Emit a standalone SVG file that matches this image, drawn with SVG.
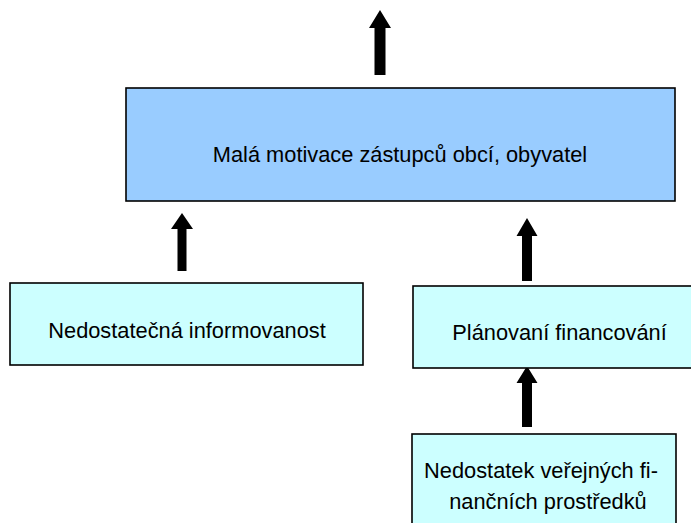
<svg xmlns="http://www.w3.org/2000/svg" width="691" height="523" viewBox="0 0 691 523">
<style>
.box{stroke:#000;stroke-width:1.6}
.main{fill:#99CCFF}
.sub{fill:#CCFFFF}
.t{font-family:"Liberation Sans",Arial,sans-serif;font-size:21.8px;fill:#000;text-anchor:middle}
.arr{fill:#000}
</style>
<rect width="691" height="523" fill="#fff"/>
<g id="connectors">
<polygon class="arr" points="380,10 391,28 385.5,28 385.5,75 374.5,75 374.5,28 369,28"/>
<polygon class="arr" points="182,213 193,229 186.5,229 186.5,271 177.5,271 177.5,229 171,229"/>
<polygon class="arr" points="527,218 537.5,236 532,236 532,281 522,281 522,236 516.5,236"/>
<polygon class="arr" points="527,366 537.5,383 532,383 532,427 522,427 522,383 516.5,383"/>
</g>
<g id="n-motivace">
<rect class="box main" x="126" y="88" width="549" height="113"/>
<text class="t" x="400" y="162">Malá motivace zástupců obcí, obyvatel</text>
</g>
<g id="n-informovanost">
<rect class="box sub" x="10" y="283" width="353" height="82"/>
<text class="t" x="187" y="338">Nedostatečná informovanost</text>
</g>
<g id="n-planovani">
<rect class="box sub" x="413" y="286" width="300" height="82"/>
<text class="t" x="559.5" y="340">Plánovaní financování</text>
</g>
<g id="n-nedostatek">
<rect class="box sub" x="412" y="434" width="264" height="100"/>
<text class="t" x="541" y="478">Nedostatek veřejných fi-</text>
<text class="t" x="548" y="509">nančních prostředků</text>
</g>
</svg>
